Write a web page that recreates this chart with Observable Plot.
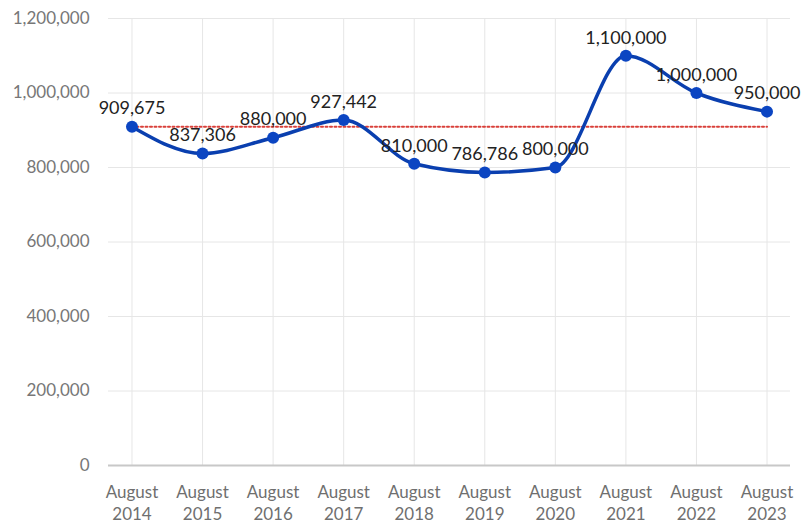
<!DOCTYPE html>
<html>
<head>
<meta charset="utf-8">
<script src="https://cdn.jsdelivr.net/npm/d3@7"></script>
<script src="https://cdn.jsdelivr.net/npm/@observablehq/plot@0.6"></script>
<style>
  html, body { margin: 0; padding: 0; background: #fff; }
  #chart { width: 810px; height: 525px; }
</style>
</head>
<body>
<div id="chart"></div>
<script>
const categories = ["August 2014", "August 2015", "August 2016", "August 2017", "August 2018",
                    "August 2019", "August 2020", "August 2021", "August 2022", "August 2023"];
const values = [909675, 837306, 880000, 927442, 810000, 786786, 800000, 1100000, 1000000, 950000];
const yTicks = [0, 200000, 400000, 600000, 800000, 1000000, 1200000];
const referenceValue = 909675;

const data = categories.map((c, i) => ({cat: c, value: values[i]}));
const refData = [
  {cat: categories[0], value: referenceValue},
  {cat: categories[categories.length - 1], value: referenceValue}
];
const fmt = d3.format(",");

const chart = Plot.plot({
  width: 810,
  height: 525,
  marginLeft: 108,
  marginRight: 20,
  marginTop: 18,
  marginBottom: 60,
  style: {fontFamily: "Lato, 'Open Sans', sans-serif", fontSize: "17px", background: "#fff"},
  x: {type: "point", domain: categories, padding: 0.333, round: false, label: null},
  y: {domain: [0, 1200000], label: null},
  marks: [
    Plot.gridY(yTicks, {stroke: "#e6e6e6", strokeOpacity: 1}),
    Plot.gridX(categories, {stroke: "#e6e6e6", strokeOpacity: 1}),
    Plot.ruleY([0], {stroke: "#c8c8c8", strokeWidth: 2}),
    Plot.axisY(yTicks, {tickSize: 0, tickPadding: 19, tickFormat: fmt, fill: "#777", fontSize: 17}),
    Plot.axisX(categories, {tickSize: 0, tickPadding: 17, tickFormat: d => d.replace(" ", "\n"), fill: "#6f6f6f", fontSize: 17, lineHeight: 1.3}),
    Plot.line(refData, {x: "cat", y: "value", stroke: "#d9403a", strokeWidth: 2, strokeDasharray: "2,2.5"}),
    Plot.line(data, {x: "cat", y: "value", curve: "monotone-x", stroke: "#0a3faf", strokeWidth: 3.5}),
    Plot.dot(data, {x: "cat", y: "value", r: 6, fill: "#0b45c2"}),
    Plot.text(data, {x: "cat", y: "value", text: d => fmt(d.value), dy: -18, fill: "#222", fontSize: 18})
  ]
});
document.getElementById("chart").appendChild(chart);
</script>
</body>
</html>
